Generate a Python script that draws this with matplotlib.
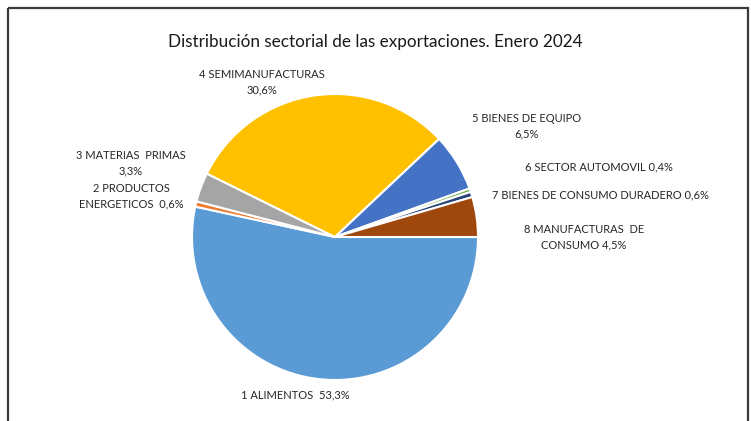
import matplotlib.pyplot as plt
from matplotlib.patches import Rectangle

# datos: distribución sectorial de las exportaciones, enero 2024 (%)
sectores = ["1 ALIMENTOS", "2 PRODUCTOS ENERGETICOS", "3 MATERIAS  PRIMAS",
            "4 SEMIMANUFACTURAS", "5 BIENES DE EQUIPO", "6 SECTOR AUTOMOVIL",
            "7 BIENES DE CONSUMO DURADERO", "8 MANUFACTURAS  DE CONSUMO"]
porcentajes = [53.3, 0.6, 3.3, 30.6, 6.5, 0.4, 0.6, 4.5]
colores = ["#5B9BD5", "#ED7D31", "#A5A5A5", "#FFC000",
           "#4472C4", "#70AD47", "#264478", "#9E480E"]

plt.rcParams['font.family'] = ['Lato', 'DejaVu Sans']

fig = plt.figure(figsize=(7.51, 4.21), dpi=100)
ax = fig.add_axes([0, 0, 1, 1])

# eje en pixeles, y hacia abajo -> counterclock=True se ve en sentido horario
ax.pie(porcentajes, colors=colores, startangle=0, counterclock=True,
       center=(335, 237), radius=143,
       wedgeprops=dict(edgecolor='white', linewidth=1.5))
ax.set_xlim(0, 751)
ax.set_ylim(421, 0)
ax.set_aspect('auto')
ax.axis('off')

# marco del gráfico
ax.add_patch(Rectangle((8, 8), 740, 430, fill=False, edgecolor='#3a3a3a',
                       linewidth=1.6, clip_on=False))

ax.text(375, 42, "Distribución sectorial de las exportaciones. Enero 2024",
        ha='center', va='center', fontsize=12.3, color='#1a1a1a')

def pct(v):
    return f"{v:.1f}".replace('.', ',') + "%"

etiquetas = [
    f"{sectores[0]}  {pct(porcentajes[0])}",
    f"2 PRODUCTOS\nENERGETICOS  {pct(porcentajes[1])}",
    f"{sectores[2]}\n{pct(porcentajes[2])}",
    f"{sectores[3]}\n{pct(porcentajes[3])}",
    f"{sectores[4]}\n{pct(porcentajes[4])}",
    f"{sectores[5]} {pct(porcentajes[5])}",
    f"{sectores[6]} {pct(porcentajes[6])}",
    f"8 MANUFACTURAS  DE\nCONSUMO {pct(porcentajes[7])}",
]
posiciones = [(295, 395), (131, 196), (131, 163), (262, 82),
              (527, 126), (599, 167), (600, 195), (584, 237)]

for txt, (x, y) in zip(etiquetas, posiciones):
    ax.text(x, y, txt, ha='center', va='center', fontsize=8,
            color='#262626', linespacing=1.55)

fig.savefig("out.png", dpi=100)
